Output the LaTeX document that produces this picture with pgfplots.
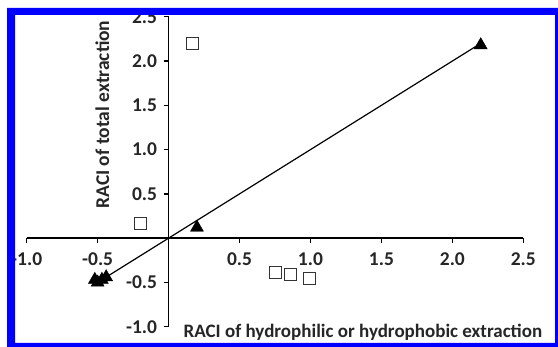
\documentclass[border=0pt]{standalone}
\usepackage{pgfplots}
\pgfplotsset{compat=1.18}
\usepackage{fontspec}
\setmainfont{Carlito}
\begin{document}
\begin{tikzpicture}[x=1pt,y=1pt]
\useasboundingbox (0,0) rectangle (558,347);
\fill[white] (0,0) rectangle (558,347);
\begin{scope}
\clip (15,4) rectangle (555,332);
\begin{axis}[
  at={(26.7pt,20.3pt)}, anchor=south west,
  scale only axis, width=496.6pt, height=309.9pt,
  xmin=-1, xmax=2.5, ymin=-1, ymax=2.5,
  axis lines=middle,
  axis line style={line width=1.5pt, -},
  tick style={line width=1.3pt, black},
  tick align=outside,
  major tick length=5pt,
  xtick={-1,-0.5,0.5,1,1.5,2,2.5},
  ytick={-1,-0.5,0.5,1,1.5,2,2.5},
  /pgf/number format/assume math mode=true,
  /pgf/number format/.cd, fixed, fixed zerofill, precision=1, /pgfplots/.cd,
  tick label style={font=\bfseries\fontsize{19.5}{20}\selectfont, text=black!85},
  xticklabel style={yshift=-6pt},
  yticklabel style={xshift=-3pt},
  clip=false,
  every axis x label/.style={at={(axis description cs:0.309,-0.0335)}, anchor=base west, font=\bfseries\fontsize{19}{20}\selectfont, text=black!85},
  every axis y label/.style={at={(axis description cs:0.166,0.370)}, anchor=base west, rotate=90, font=\bfseries\fontsize{19.5}{20}\selectfont, text=black!85},
  xlabel={RACI of hydrophilic or hydrophobic extraction},
  ylabel={RACI of total extraction},
]
\addplot[only marks, mark=square, mark size=6pt, mark options={draw=black!80, line width=1pt}]
  coordinates {(0.17,2.2) (-0.2,0.16) (0.75,-0.39) (0.86,-0.41) (0.99,-0.46)};
\addplot[black, line width=1.2pt] coordinates {(-0.45,-0.45) (2.2,2.2)};
\addplot[only marks, mark=triangle*, mark size=7.5pt, black]
  coordinates {(2.2,2.18) (0.2,0.12) (-0.5,-0.5) (-0.47,-0.47) (-0.44,-0.44) (-0.52,-0.47)};
\end{axis}
\end{scope}
\fill[blue, even odd rule] (7,0) rectangle (558,339) (15,4) rectangle (555,332);
\end{tikzpicture}
\end{document}
